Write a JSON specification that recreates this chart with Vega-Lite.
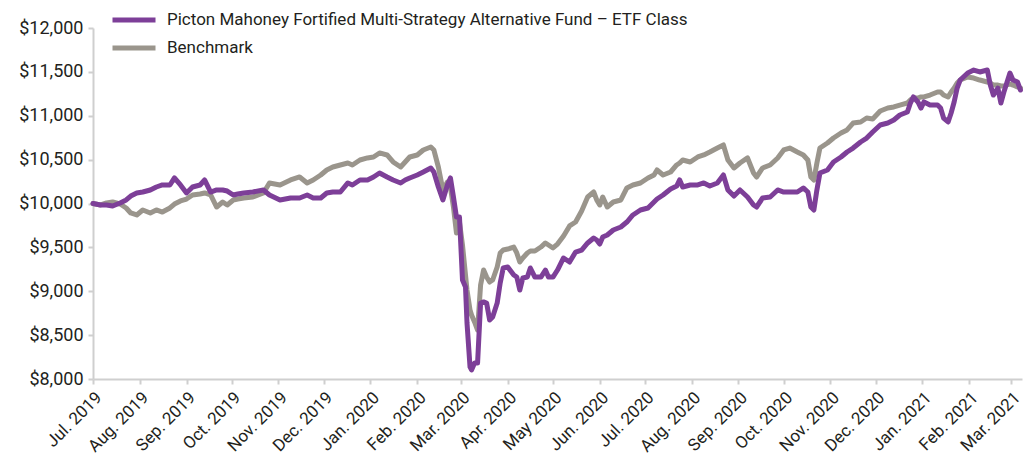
{
  "$schema": "https://vega.github.io/schema/vega-lite/v6.json",
  "width": 929,
  "height": 351,
  "autosize": {"type": "none"},
  "padding": {"left": 93, "top": 28, "right": 2, "bottom": 77},
  "background": "white",
  "config": {
    "view": {"stroke": null},
    "font": "Roboto",
    "axis": {"grid": false, "title": null, "domainColor": "#cfcfcf", "domainWidth": 2, "tickColor": "#cfcfcf", "tickWidth": 2, "tickSize": 5, "labelColor": "#231f20", "labelFont": "Roboto"}
  },
  "data": {"values": [
    {"date": "2019-07-01", "fund": 10000, "bench": 10000},
    {"date": "2019-07-06", "fund": 9983, "bench": 9983},
    {"date": "2019-07-10", "fund": 9983, "bench": 10006},
    {"date": "2019-07-14", "fund": 9972, "bench": 10017},
    {"date": "2019-07-19", "fund": 10006, "bench": 9994},
    {"date": "2019-07-23", "fund": 10040, "bench": 9949},
    {"date": "2019-07-26", "fund": 10085, "bench": 9892},
    {"date": "2019-07-30", "fund": 10120, "bench": 9869},
    {"date": "2019-08-03", "fund": 10131, "bench": 9926},
    {"date": "2019-08-08", "fund": 10154, "bench": 9892},
    {"date": "2019-08-12", "fund": 10188, "bench": 9926},
    {"date": "2019-08-16", "fund": 10211, "bench": 9903},
    {"date": "2019-08-21", "fund": 10211, "bench": 9949},
    {"date": "2019-08-24", "fund": 10291, "bench": 9994},
    {"date": "2019-08-28", "fund": 10211, "bench": 10029},
    {"date": "2019-09-01", "fund": 10120, "bench": 10051},
    {"date": "2019-09-05", "fund": 10188, "bench": 10097},
    {"date": "2019-09-10", "fund": 10211, "bench": 10108},
    {"date": "2019-09-13", "fund": 10268, "bench": 10120},
    {"date": "2019-09-17", "fund": 10131, "bench": 10097},
    {"date": "2019-09-21", "fund": 10154, "bench": 9960},
    {"date": "2019-09-25", "fund": 10154, "bench": 10017},
    {"date": "2019-09-28", "fund": 10142, "bench": 9983},
    {"date": "2019-10-02", "fund": 10097, "bench": 10040},
    {"date": "2019-10-05", "fund": 10108, "bench": 10051},
    {"date": "2019-10-09", "fund": 10120, "bench": 10063},
    {"date": "2019-10-15", "fund": 10131, "bench": 10074},
    {"date": "2019-10-22", "fund": 10154, "bench": 10120},
    {"date": "2019-10-26", "fund": 10097, "bench": 10234},
    {"date": "2019-11-02", "fund": 10040, "bench": 10211},
    {"date": "2019-11-09", "fund": 10063, "bench": 10268},
    {"date": "2019-11-15", "fund": 10063, "bench": 10302},
    {"date": "2019-11-20", "fund": 10097, "bench": 10234},
    {"date": "2019-11-24", "fund": 10063, "bench": 10268},
    {"date": "2019-11-29", "fund": 10063, "bench": 10325},
    {"date": "2019-12-03", "fund": 10120, "bench": 10382},
    {"date": "2019-12-07", "fund": 10131, "bench": 10416},
    {"date": "2019-12-12", "fund": 10131, "bench": 10439},
    {"date": "2019-12-17", "fund": 10234, "bench": 10462},
    {"date": "2019-12-20", "fund": 10211, "bench": 10439},
    {"date": "2019-12-25", "fund": 10268, "bench": 10496},
    {"date": "2019-12-30", "fund": 10268, "bench": 10519},
    {"date": "2020-01-03", "fund": 10302, "bench": 10530},
    {"date": "2020-01-07", "fund": 10348, "bench": 10576},
    {"date": "2020-01-12", "fund": 10302, "bench": 10553},
    {"date": "2020-01-16", "fund": 10268, "bench": 10473},
    {"date": "2020-01-21", "fund": 10234, "bench": 10416},
    {"date": "2020-01-24", "fund": 10268, "bench": 10473},
    {"date": "2020-01-27", "fund": 10291, "bench": 10530},
    {"date": "2020-02-01", "fund": 10325, "bench": 10553},
    {"date": "2020-02-05", "fund": 10359, "bench": 10610},
    {"date": "2020-02-10", "fund": 10405, "bench": 10644},
    {"date": "2020-02-12", "fund": 10359, "bench": 10610},
    {"date": "2020-02-15", "fund": 10188, "bench": 10416},
    {"date": "2020-02-18", "fund": 10040, "bench": 10154},
    {"date": "2020-02-21", "fund": 10211, "bench": 10245},
    {"date": "2020-02-23", "fund": 10291, "bench": 10188},
    {"date": "2020-02-25", "fund": 10074, "bench": 9960},
    {"date": "2020-02-27", "fund": 9846, "bench": 9664},
    {"date": "2020-02-29", "fund": 9846, "bench": 9789},
    {"date": "2020-03-02", "fund": 9128, "bench": 9527},
    {"date": "2020-03-04", "fund": 9048, "bench": 9185},
    {"date": "2020-03-05", "fund": 8638, "bench": 9014},
    {"date": "2020-03-07", "fund": 8137, "bench": 8786},
    {"date": "2020-03-08", "fund": 8103, "bench": 8729},
    {"date": "2020-03-10", "fund": 8182, "bench": 8650},
    {"date": "2020-03-12", "fund": 8182, "bench": 8558},
    {"date": "2020-03-14", "fund": 8866, "bench": 9071},
    {"date": "2020-03-16", "fund": 8878, "bench": 9242},
    {"date": "2020-03-18", "fund": 8866, "bench": 9162},
    {"date": "2020-03-20", "fund": 8672, "bench": 9105},
    {"date": "2020-03-22", "fund": 8707, "bench": 9128},
    {"date": "2020-03-25", "fund": 8866, "bench": 9276},
    {"date": "2020-03-27", "fund": 9094, "bench": 9436},
    {"date": "2020-03-29", "fund": 9265, "bench": 9470},
    {"date": "2020-04-01", "fund": 9276, "bench": 9481},
    {"date": "2020-04-05", "fund": 9185, "bench": 9504},
    {"date": "2020-04-07", "fund": 9162, "bench": 9436},
    {"date": "2020-04-09", "fund": 9014, "bench": 9333},
    {"date": "2020-04-11", "fund": 9151, "bench": 9379},
    {"date": "2020-04-14", "fund": 9162, "bench": 9436},
    {"date": "2020-04-16", "fund": 9265, "bench": 9459},
    {"date": "2020-04-19", "fund": 9162, "bench": 9459},
    {"date": "2020-04-23", "fund": 9162, "bench": 9504},
    {"date": "2020-04-26", "fund": 9242, "bench": 9550},
    {"date": "2020-04-28", "fund": 9162, "bench": 9527},
    {"date": "2020-05-01", "fund": 9162, "bench": 9493},
    {"date": "2020-05-04", "fund": 9242, "bench": 9538},
    {"date": "2020-05-08", "fund": 9379, "bench": 9630},
    {"date": "2020-05-12", "fund": 9333, "bench": 9744},
    {"date": "2020-05-16", "fund": 9447, "bench": 9789},
    {"date": "2020-05-20", "fund": 9470, "bench": 9915},
    {"date": "2020-05-24", "fund": 9550, "bench": 10074},
    {"date": "2020-05-28", "fund": 9607, "bench": 10131},
    {"date": "2020-05-30", "fund": 9584, "bench": 10040},
    {"date": "2020-06-01", "fund": 9538, "bench": 9983},
    {"date": "2020-06-03", "fund": 9618, "bench": 10074},
    {"date": "2020-06-06", "fund": 9641, "bench": 9960},
    {"date": "2020-06-10", "fund": 9698, "bench": 10017},
    {"date": "2020-06-15", "fund": 9732, "bench": 10040},
    {"date": "2020-06-19", "fund": 9789, "bench": 10177},
    {"date": "2020-06-23", "fund": 9869, "bench": 10211},
    {"date": "2020-06-28", "fund": 9926, "bench": 10234},
    {"date": "2020-07-03", "fund": 9949, "bench": 10291},
    {"date": "2020-07-07", "fund": 10017, "bench": 10325},
    {"date": "2020-07-09", "fund": 10051, "bench": 10382},
    {"date": "2020-07-13", "fund": 10097, "bench": 10325},
    {"date": "2020-07-18", "fund": 10165, "bench": 10359},
    {"date": "2020-07-22", "fund": 10199, "bench": 10439},
    {"date": "2020-07-24", "fund": 10268, "bench": 10462},
    {"date": "2020-07-26", "fund": 10188, "bench": 10496},
    {"date": "2020-07-31", "fund": 10211, "bench": 10473},
    {"date": "2020-08-05", "fund": 10211, "bench": 10530},
    {"date": "2020-08-09", "fund": 10234, "bench": 10553},
    {"date": "2020-08-13", "fund": 10199, "bench": 10587},
    {"date": "2020-08-18", "fund": 10234, "bench": 10632},
    {"date": "2020-08-22", "fund": 10325, "bench": 10667},
    {"date": "2020-08-25", "fund": 10154, "bench": 10496},
    {"date": "2020-08-29", "fund": 10085, "bench": 10405},
    {"date": "2020-09-02", "fund": 10154, "bench": 10462},
    {"date": "2020-09-07", "fund": 10074, "bench": 10519},
    {"date": "2020-09-11", "fund": 9983, "bench": 10348},
    {"date": "2020-09-13", "fund": 9960, "bench": 10302},
    {"date": "2020-09-17", "fund": 10063, "bench": 10405},
    {"date": "2020-09-22", "fund": 10074, "bench": 10439},
    {"date": "2020-09-27", "fund": 10154, "bench": 10519},
    {"date": "2020-10-01", "fund": 10131, "bench": 10610},
    {"date": "2020-10-05", "fund": 10131, "bench": 10632},
    {"date": "2020-10-10", "fund": 10131, "bench": 10587},
    {"date": "2020-10-14", "fund": 10177, "bench": 10553},
    {"date": "2020-10-17", "fund": 10131, "bench": 10496},
    {"date": "2020-10-19", "fund": 9960, "bench": 10302},
    {"date": "2020-10-21", "fund": 9926, "bench": 10268},
    {"date": "2020-10-23", "fund": 10154, "bench": 10462},
    {"date": "2020-10-25", "fund": 10348, "bench": 10632},
    {"date": "2020-10-30", "fund": 10382, "bench": 10690},
    {"date": "2020-11-03", "fund": 10473, "bench": 10746},
    {"date": "2020-11-08", "fund": 10530, "bench": 10803},
    {"date": "2020-11-12", "fund": 10587, "bench": 10838},
    {"date": "2020-11-16", "fund": 10632, "bench": 10917},
    {"date": "2020-11-21", "fund": 10701, "bench": 10929},
    {"date": "2020-11-25", "fund": 10746, "bench": 10974},
    {"date": "2020-11-29", "fund": 10815, "bench": 10963},
    {"date": "2020-12-04", "fund": 10895, "bench": 11054},
    {"date": "2020-12-09", "fund": 10917, "bench": 11088},
    {"date": "2020-12-13", "fund": 10952, "bench": 11100},
    {"date": "2020-12-17", "fund": 11009, "bench": 11122},
    {"date": "2020-12-22", "fund": 11043, "bench": 11145},
    {"date": "2020-12-24", "fund": 11145, "bench": 11180},
    {"date": "2020-12-26", "fund": 11214, "bench": 11202},
    {"date": "2020-12-29", "fund": 11157, "bench": 11202},
    {"date": "2020-12-31", "fund": 11088, "bench": 11214},
    {"date": "2021-01-02", "fund": 11157, "bench": 11214},
    {"date": "2021-01-06", "fund": 11122, "bench": 11236},
    {"date": "2021-01-11", "fund": 11122, "bench": 11271},
    {"date": "2021-01-13", "fund": 11088, "bench": 11271},
    {"date": "2021-01-15", "fund": 10974, "bench": 11236},
    {"date": "2021-01-18", "fund": 10929, "bench": 11214},
    {"date": "2021-01-20", "fund": 11031, "bench": 11271},
    {"date": "2021-01-22", "fund": 11157, "bench": 11316},
    {"date": "2021-01-24", "fund": 11316, "bench": 11373},
    {"date": "2021-01-26", "fund": 11407, "bench": 11407},
    {"date": "2021-01-31", "fund": 11487, "bench": 11442},
    {"date": "2021-02-04", "fund": 11521, "bench": 11430},
    {"date": "2021-02-08", "fund": 11499, "bench": 11407},
    {"date": "2021-02-13", "fund": 11521, "bench": 11385},
    {"date": "2021-02-15", "fund": 11350, "bench": 11373},
    {"date": "2021-02-17", "fund": 11236, "bench": 11350},
    {"date": "2021-02-20", "fund": 11316, "bench": 11350},
    {"date": "2021-02-22", "fund": 11145, "bench": 11339},
    {"date": "2021-02-24", "fund": 11271, "bench": 11339},
    {"date": "2021-02-28", "fund": 11487, "bench": 11362},
    {"date": "2021-03-02", "fund": 11407, "bench": 11350},
    {"date": "2021-03-05", "fund": 11385, "bench": 11328},
    {"date": "2021-03-07", "fund": 11293, "bench": 11316}
  ]},
  "encoding": {
    "x": {
      "field": "date",
      "type": "temporal",
      "scale": {"type": "utc", "domain": [{"year": 2019, "month": 7, "date": 1, "utc": true}, {"year": 2021, "month": 3, "date": 8, "utc": true}], "nice": false},
      "axis": {
        "tickCount": {"interval": "month", "step": 1},
        "labelExpr": "utcFormat(datum.value, '%m') == '05' ? utcFormat(datum.value, 'May %Y') : utcFormat(datum.value, '%b. %Y')",
        "labelAngle": -45,
        "labelFontSize": 17,
        "labelPadding": 5,
        "labelOverlap": false,
        "labelBound": false,
        "labelFlush": false
      }
    },
    "color": {
      "type": "nominal",
      "scale": {
        "domain": ["Picton Mahoney Fortified Multi-Strategy Alternative Fund – ETF Class", "Benchmark"],
        "range": ["#7d3f98", "#9a958c"]
      },
      "legend": {
        "title": null,
        "orient": "none",
        "legendX": 17,
        "legendY": -17,
        "symbolType": "stroke",
        "symbolSize": 1849,
        "symbolStrokeWidth": 5,
        "clipHeight": 18,
        "rowPadding": 10,
        "labelOffset": 9,
        "labelFontSize": 17,
        "labelColor": "#231f20",
        "labelLimit": 700
      }
    }
  },
  "layer": [
    {
      "mark": {"type": "line", "strokeWidth": 5, "strokeJoin": "round", "strokeCap": "round"},
      "encoding": {
        "y": {"field": "bench", "type": "quantitative", "scale": {"domain": [8000, 12000], "nice": false, "zero": false},
          "axis": {"values": [8000, 8500, 9000, 9500, 10000, 10500, 11000, 11500, 12000], "format": "$,.0f", "labelFontSize": 18, "labelPadding": 5}},
        "color": {"datum": "Benchmark"}
      }
    },
    {
      "mark": {"type": "line", "strokeWidth": 5, "strokeJoin": "round", "strokeCap": "round"},
      "encoding": {
        "y": {"field": "fund", "type": "quantitative", "scale": {"domain": [8000, 12000], "nice": false, "zero": false},
          "axis": {"values": [8000, 8500, 9000, 9500, 10000, 10500, 11000, 11500, 12000], "format": "$,.0f", "labelFontSize": 18, "labelPadding": 5}},
        "color": {"datum": "Picton Mahoney Fortified Multi-Strategy Alternative Fund – ETF Class"}
      }
    }
  ]
}
